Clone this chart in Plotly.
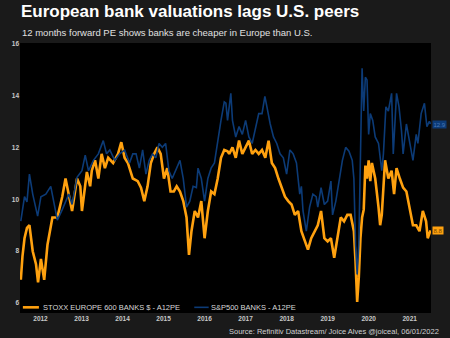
import plotly.graph_objects as go

# ---- data (decimal years, 12m forward PE) ----
eu_x = [2012.02, 2012.06, 2012.11, 2012.17, 2012.23, 2012.31, 2012.39, 2012.44, 2012.51, 2012.59,
        2012.67, 2012.79, 2012.91, 2013.03, 2013.11, 2013.19, 2013.27, 2013.39, 2013.47, 2013.51,
        2013.59, 2013.63, 2013.71, 2013.75, 2013.83, 2013.91, 2013.99, 2014.07, 2014.15, 2014.27,
        2014.39, 2014.47, 2014.55, 2014.63, 2014.75, 2014.87, 2014.95, 2015.03, 2015.11, 2015.19,
        2015.27, 2015.35, 2015.43, 2015.51, 2015.59, 2015.67, 2015.75, 2015.82, 2015.90, 2015.98,
        2016.06, 2016.12, 2016.18, 2016.26, 2016.34, 2016.42, 2016.50, 2016.58, 2016.66, 2016.74,
        2016.82, 2016.90, 2016.98, 2017.06, 2017.10, 2017.18, 2017.26, 2017.34, 2017.42, 2017.50,
        2017.58, 2017.66, 2017.74, 2017.82, 2017.90, 2017.98, 2018.06, 2018.14, 2018.22, 2018.30,
        2018.38, 2018.46, 2018.54, 2018.62, 2018.70, 2018.78, 2018.86, 2018.94, 2019.02, 2019.10,
        2019.18, 2019.26, 2019.34, 2019.42, 2019.50, 2019.58, 2019.66, 2019.74, 2019.82, 2019.90,
        2019.98, 2020.06, 2020.10, 2020.14, 2020.18, 2020.22, 2020.26, 2020.30, 2020.34, 2020.38,
        2020.42, 2020.46, 2020.50, 2020.54, 2020.58, 2020.66, 2020.74, 2020.78, 2020.82, 2020.86,
        2020.90, 2020.98, 2021.06, 2021.12, 2021.18, 2021.26, 2021.34, 2021.42, 2021.50, 2021.58,
        2021.66, 2021.74, 2021.82, 2021.90, 2021.94, 2022.01]
eu_pe = [6.9, 7.8, 8.5, 8.9, 9.0, 8.0, 7.5, 6.8, 7.7, 6.9,
         8.25, 9.3, 9.3, 10.1, 10.8, 10.2, 9.55, 10.8, 10.5, 9.55,
         10.5, 11.05, 10.5, 11.1, 11.5, 10.8, 11.75, 11.2, 11.6, 11.4,
         11.75, 12.2, 11.6, 11.4, 10.8, 10.7, 10.45, 9.93, 10.5, 11.4,
         11.75, 12.0, 11.75, 10.8, 11.2, 10.3, 10.3, 10.5, 10.3, 9.93,
         9.3, 7.86, 8.77, 9.55, 9.3, 9.93, 8.5, 9.55, 10.3, 10.2,
         10.8, 11.6, 11.9, 11.85, 11.75, 12.0, 11.6, 12.26, 11.75, 12.0,
         12.26, 11.75, 11.9, 11.75, 11.9, 11.6, 12.26, 11.4, 11.2, 10.8,
         10.45, 10.1, 9.93, 9.8, 9.4, 9.55, 8.77, 8.38, 8.06, 8.5,
         8.77, 9.0, 9.55, 8.5, 8.38, 8.5, 7.75, 8.5, 9.3, 9.15,
         9.4, 9.4, 9.0, 8.77, 7.6, 6.05, 7.0, 8.5, 9.3, 9.6,
         11.3, 10.8, 11.5, 10.7, 11.4, 10.8, 9.7, 9.0, 9.4, 10.5,
         11.5, 10.8, 11.1, 10.2, 11.2, 10.8, 10.45, 10.3, 9.7, 9.0,
         9.0, 8.77, 9.55, 9.15, 8.5, 8.8]

us_x = [2012.02, 2012.11, 2012.17, 2012.23, 2012.31, 2012.43, 2012.51, 2012.63, 2012.75, 2012.83,
        2012.91, 2013.03, 2013.19, 2013.27, 2013.39, 2013.51, 2013.59, 2013.67, 2013.79, 2013.91,
        2014.03, 2014.11, 2014.19, 2014.31, 2014.43, 2014.55, 2014.67, 2014.75, 2014.83, 2014.91,
        2014.99, 2015.07, 2015.15, 2015.23, 2015.31, 2015.39, 2015.47, 2015.55, 2015.63, 2015.71,
        2015.82, 2015.90, 2015.98, 2016.06, 2016.14, 2016.22, 2016.30, 2016.34, 2016.42, 2016.50,
        2016.58, 2016.66, 2016.74, 2016.82, 2016.90, 2016.98, 2017.02, 2017.06, 2017.14, 2017.18,
        2017.26, 2017.34, 2017.42, 2017.50, 2017.58, 2017.66, 2017.74, 2017.82, 2017.90, 2017.97,
        2018.02, 2018.10, 2018.18, 2018.26, 2018.34, 2018.42, 2018.50, 2018.58, 2018.66, 2018.74,
        2018.78, 2018.82, 2018.86, 2018.90, 2018.98, 2019.06, 2019.14, 2019.22, 2019.26, 2019.34,
        2019.42, 2019.50, 2019.58, 2019.62, 2019.70, 2019.78, 2019.86, 2019.94, 2020.02, 2020.10,
        2020.14, 2020.18, 2020.22, 2020.26, 2020.30, 2020.34, 2020.38, 2020.42, 2020.46, 2020.50,
        2020.54, 2020.60, 2020.66, 2020.74, 2020.82, 2020.86, 2020.92, 2020.98, 2021.06, 2021.10,
        2021.18, 2021.24, 2021.30, 2021.34, 2021.42, 2021.50, 2021.58, 2021.66, 2021.70, 2021.78,
        2021.86, 2021.92, 2021.98, 2022.01]
us_pe = [9.16, 10.1, 9.9, 10.97, 10.2, 9.35, 10.1, 10.2, 10.5, 9.8,
         9.2, 9.6, 10.2, 9.8, 10.85, 11.1, 11.7, 11.1, 11.5, 11.75,
         12.26, 11.75, 11.9, 11.5, 11.75, 11.9, 11.4, 11.75, 11.75, 11.2,
         11.9, 10.97, 11.5, 11.75, 11.6, 12.15, 12.0, 12.15, 11.1, 10.8,
         11.2, 11.5, 10.8, 9.7, 9.93, 10.5, 10.45, 11.2, 10.8, 9.93,
         10.8, 11.2, 11.4, 12.26, 13.04, 13.75, 13.7, 13.04, 14.08, 13.04,
         12.4, 12.8, 12.5, 13.04, 12.4, 12.15, 12.8, 13.3, 13.3, 13.96,
         13.56, 12.9, 12.4, 12.15, 11.75, 11.6, 10.97, 11.9, 11.75, 11.4,
         10.8, 10.2, 10.5, 9.55, 8.77, 9.7, 10.2, 10.1, 9.7, 10.45,
         9.8, 9.93, 10.7, 9.4, 9.93, 10.7, 11.5, 12.0, 11.85, 11.5,
         10.8, 8.25, 7.1, 8.25, 12.15, 15.05, 13.4, 14.7, 14.6, 12.5,
         13.3, 13.04, 12.4, 12.15, 11.1, 11.75, 13.56, 13.4, 14.08, 11.75,
         14.08, 13.56, 12.65, 11.75, 12.9, 12.15, 11.5, 12.5, 12.15, 13.3,
         13.7, 12.8, 13.0, 12.9]

years = [2012, 2013, 2014, 2015, 2016, 2017, 2018, 2019, 2020, 2021]
y_ticks = [6, 8, 10, 12, 14, 16]

series_names = ["STOXX EUROPE 600 BANKS $ - A12PE", "S&P500 BANKS - A12PE"]
last_labels = ["8.8", "12.9"]

ORANGE = "#FFA10F"
BLUE = "#0C3B77"
FONT = "Liberation Sans, Arial, sans-serif"

fig = go.Figure()
fig.add_trace(go.Scatter(x=eu_x, y=eu_pe, mode="lines", name=series_names[0],
                         line=dict(color=ORANGE, width=2.6)))
fig.add_trace(go.Scatter(x=us_x, y=us_pe, mode="lines", name=series_names[1],
                         line=dict(color=BLUE, width=1.6)))

# legend drawn manually (short line samples) inside the plot, bottom-left
LEG_Y = 0.021
legend_shapes = [
    dict(type="line", xref="paper", yref="paper", x0=0.007, x1=0.046, y0=LEG_Y, y1=LEG_Y,
         line=dict(color=ORANGE, width=2.6)),
    dict(type="line", xref="paper", yref="paper", x0=0.424, x1=0.459, y0=LEG_Y, y1=LEG_Y,
         line=dict(color=BLUE, width=1.6)),
]
legend_texts = [
    dict(text=series_names[0], xref="paper", yref="paper", x=0.052, y=LEG_Y,
         xanchor="left", yanchor="middle", showarrow=False,
         font=dict(size=7.5, color="#d8d8d8")),
    dict(text=series_names[1], xref="paper", yref="paper", x=0.461, y=LEG_Y,
         xanchor="left", yanchor="middle", showarrow=False,
         font=dict(size=7.5, color="#d8d8d8")),
]

fig.update_layout(
    width=450, height=338,
    margin=dict(l=13, r=19, t=43, b=25),
    paper_bgcolor="#1a1a1a",
    plot_bgcolor="#000000",
    font=dict(family=FONT, color="#d0d0d0"),
    showlegend=False,
    xaxis=dict(range=[2012.0, 2022.02], showgrid=False, zeroline=False,
               tickvals=[y + 0.5 for y in years],
               ticktext=["<b>%d</b>" % y for y in years],
               tickfont=dict(size=6.5, color="#c8c8c8"), ticks="", ticklen=0),
    yaxis=dict(range=[5.62, 16.02], showgrid=False, zeroline=False,
               tickvals=y_ticks, ticktext=["<b>%d</b>" % v for v in y_ticks],
               tickfont=dict(size=6.5, color="#c8c8c8"), ticks="", ticklen=0),
    shapes=legend_shapes,
    annotations=legend_texts + [
        dict(text="<b>European bank valuations lags U.S. peers</b>", xref="paper", yref="paper",
             x=0, y=1, xanchor="left", yanchor="bottom", yshift=20, xshift=-1,
             showarrow=False, font=dict(size=17, color="#ffffff")),
        dict(text="12 months forward PE shows banks are cheaper in Europe than U.S.",
             xref="paper", yref="paper", x=0, y=1, xanchor="left", yanchor="bottom", yshift=3,
             showarrow=False, font=dict(size=9.5, color="#e0e0e0")),
        dict(text="Source: Refinitiv Datastream/ Joice Alves @joiceal, 06/01/2022",
             xref="paper", yref="paper", x=1, y=0, xanchor="right", yanchor="top",
             xshift=10, yshift=-12, showarrow=False, font=dict(size=7.5, color="#d0d0d0")),
        dict(text=last_labels[1], xref="paper", yref="y", x=1, y=us_pe[-1],
             xanchor="left", yanchor="middle", xshift=1, showarrow=False,
             bgcolor=BLUE, borderpad=0.5, font=dict(size=6, color="#4a78b8")),
        dict(text=last_labels[0], xref="paper", yref="y", x=1, y=eu_pe[-1],
             xanchor="left", yanchor="middle", xshift=1, showarrow=False,
             bgcolor=ORANGE, borderpad=0.5, font=dict(size=6, color="#7a4a00")),
    ],
)

fig.write_html("out.html")
